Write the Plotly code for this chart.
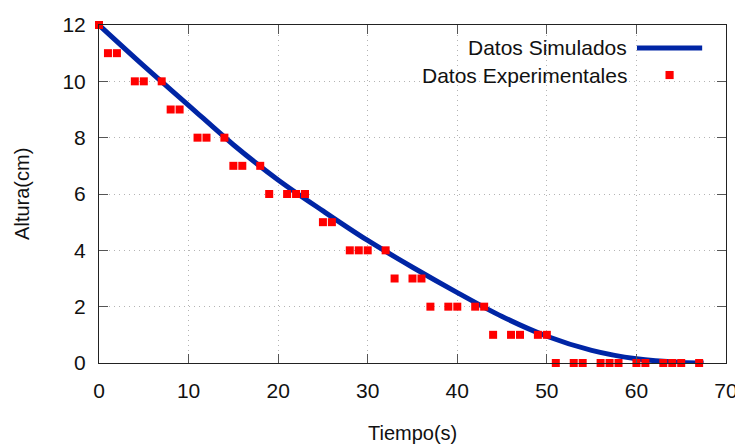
import plotly.graph_objects as go

# Experimental data (time in s, height in cm)
t_exp = [0, 1, 2, 4, 5, 7, 8, 9, 11, 12, 14, 15, 16, 18, 19, 21, 22, 23, 25, 26,
         28, 29, 30, 32, 33, 35, 36, 37, 39, 40, 42, 43, 44, 46, 47, 49, 50,
         51, 53, 54, 56, 57, 58, 60, 61, 63, 64, 65, 67]
h_exp = [12, 11, 11, 10, 10, 10, 9, 9, 8, 8, 8, 7, 7, 7, 6, 6, 6, 6, 5, 5,
         4, 4, 4, 4, 3, 3, 3, 2, 2, 2, 2, 2, 1, 1, 1, 1, 1,
         0, 0, 0, 0, 0, 0, 0, 0, 0, 0, 0, 0]

# Simulated curve
t_sim = [0, 5, 10, 15, 20, 25, 30, 35, 40, 45, 50, 55, 60, 65, 67.5]
h_sim = [12, 10.55, 9.15, 7.75, 6.5, 5.4, 4.35, 3.4, 2.5, 1.65, 0.95, 0.45, 0.15, 0.02, 0]

x_ticks = [0, 10, 20, 30, 40, 50, 60, 70]
y_ticks = [0, 2, 4, 6, 8, 10, 12]

font_family = "Liberation Sans"
blue = "#0025a5"
red = "#ff0000"
txt = "#111111"

fig = go.Figure()
fig.add_trace(go.Scatter(x=t_sim, y=h_sim, mode="lines", name="Datos Simulados",
                         line=dict(color=blue, width=5, shape="spline"),
                         cliponaxis=False))
fig.add_trace(go.Scatter(x=t_exp, y=h_exp, mode="markers", name="Datos Experimentales",
                         marker=dict(symbol="square", size=8, color=red, line=dict(width=0)),
                         cliponaxis=False))

axis_common = dict(
    showline=True, linecolor="#222222", linewidth=1, mirror="ticks",
    ticks="inside", ticklen=9, tickcolor="#555555", tickwidth=1,
    showgrid=True, gridcolor="#b4b4b4", griddash="1px,4px", gridwidth=1,
    zeroline=False, automargin=False,
    tickfont=dict(family=font_family, size=21, color=txt),
)

fig.update_xaxes(range=[0, 70], tickvals=x_ticks, ticktext=[str(v) for v in x_ticks],
                 ticklabelstandoff=9, **axis_common)
fig.update_yaxes(range=[0, 12], tickvals=y_ticks, ticktext=[str(v) for v in y_ticks],
                 ticklabelstandoff=8, **axis_common)

title_font = dict(family=font_family, size=20, color=txt)
fig.add_annotation(xref="paper", yref="paper", x=0.5, y=-0.207, xanchor="center", yanchor="middle",
                   text="Tiempo(s)", showarrow=False, font=title_font)
fig.add_annotation(xref="paper", yref="paper", x=-0.123, y=0.5, xanchor="center", yanchor="middle",
                   text="Altura(cm)", textangle=-90, showarrow=False, font=title_font)

# gnuplot-style legend: text right-aligned, sample to the right
legend_font = dict(family=font_family, size=21, color=txt)
fig.add_annotation(xref="paper", yref="paper", x=0.845, y=0.932, xanchor="right", yanchor="middle",
                   text="Datos Simulados", showarrow=False, font=legend_font)
fig.add_annotation(xref="paper", yref="paper", x=0.845, y=0.852, xanchor="right", yanchor="middle",
                   text="Datos Experimentales", showarrow=False, font=legend_font)
fig.add_shape(type="line", xref="paper", yref="paper", x0=0.858, x1=0.962, y0=0.932, y1=0.932,
              line=dict(color=blue, width=5))
fig.add_shape(type="rect", xref="paper", yref="paper", x0=0.9035, x1=0.9165, y0=0.840, y1=0.864,
              line=dict(width=0), fillcolor=red)

# page body has an 8px default margin; compensate so the plot area lands where the reference has it
fig.update_layout(
    width=735, height=440,
    margin=dict(l=91, r=17, t=17, b=85),
    plot_bgcolor="white", paper_bgcolor="white",
    showlegend=False,
    font=dict(family=font_family),
)

fig.write_html("out.html")
